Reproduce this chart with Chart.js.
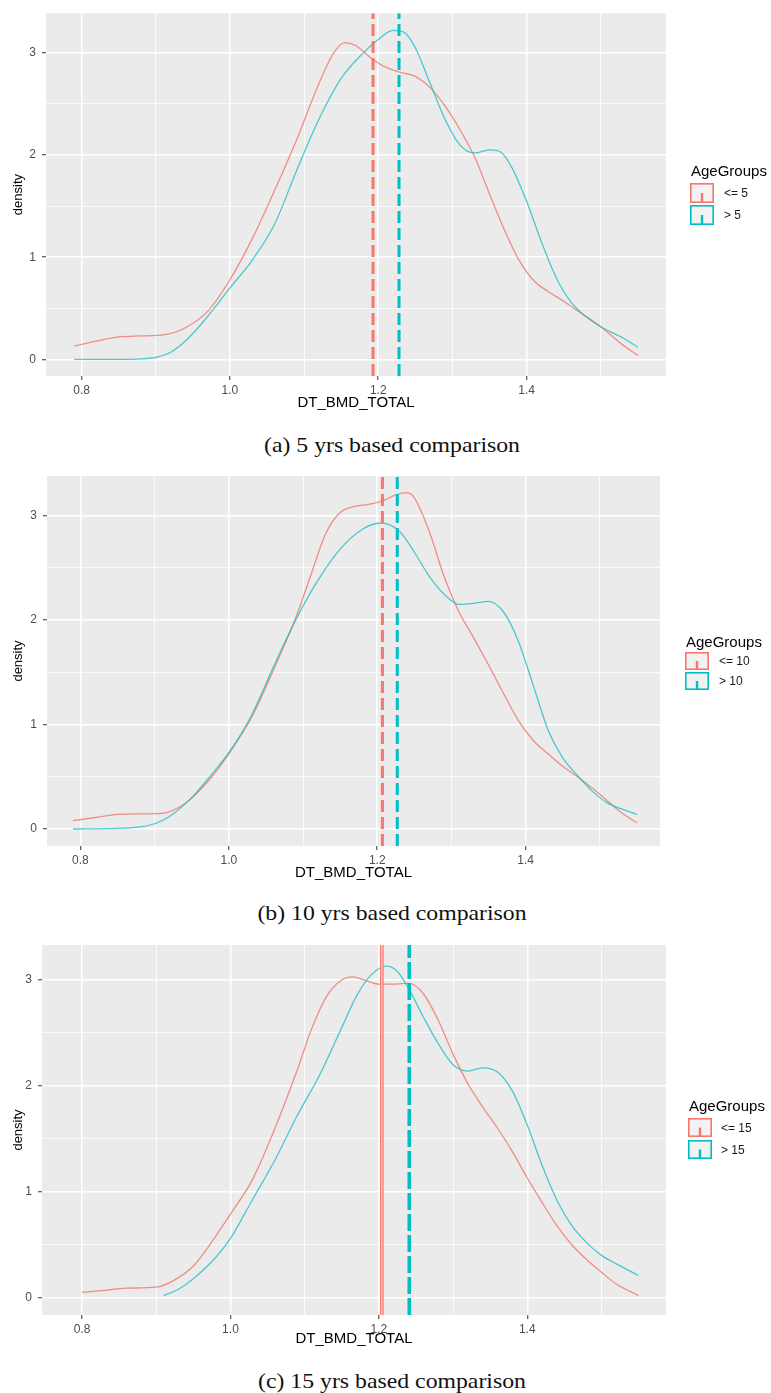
<!DOCTYPE html>
<html>
<head>
<meta charset="utf-8">
<script src="https://cdn.jsdelivr.net/npm/chart.js@4.4.1/dist/chart.umd.min.js"></script>
<style>
  html, body { margin: 0; padding: 0; background: #ffffff; }
  body { width: 771px; height: 1393px; position: relative; overflow: hidden; }
  canvas { position: absolute; left: 0; }
  .cap { position: absolute; left: 392px; transform: translateX(-50%) scaleX(1.08); white-space: nowrap;
         font-family: 'Liberation Serif', serif; font-size: 22px; line-height: 26px; color: #111; }
</style>
</head>
<body>
<canvas id="c1" width="771" height="425" style="top:0px"></canvas>
<canvas id="c2" width="771" height="430" style="top:460px"></canvas>
<canvas id="c3" width="771" height="420" style="top:930px"></canvas>
<div class="cap" id="cap1"></div>
<div class="cap" id="cap2"></div>
<div class="cap" id="cap3"></div>
<script>
// ---------------- data ----------------
const xMajor = [0.8, 1.0, 1.2, 1.4];
const xTickLabels = ['0.8', '1.0', '1.2', '1.4'];
const xMinor = [0.9, 1.1, 1.3, 1.5];
const yMajor = [0, 1, 2, 3];
const yTickLabels = ['0', '1', '2', '3'];
const yMinor = [0.5, 1.5, 2.5];
const xTitle = 'DT_BMD_TOTAL';
const yTitle = 'density';
const legendTitle = 'AgeGroups';
const captions = ['(a) 5 yrs based comparison', '(b) 10 yrs based comparison', '(c) 15 yrs based comparison'];

// (a) 5 years
const groups5 = ['<= 5', '> 5'];
const x5Low = [0.79,0.82,0.85,0.88,0.91,0.94,0.97,1.00,1.03,1.06,1.09,1.12,1.14,1.155,1.17,1.19,1.21,1.23,1.25,1.27,1.29,1.31,1.33,1.35,1.37,1.39,1.41,1.43,1.45,1.47,1.50,1.53,1.55];
const d5Low = [0.13,0.18,0.22,0.23,0.24,0.31,0.47,0.78,1.18,1.65,2.15,2.70,3.00,3.10,3.07,2.95,2.86,2.81,2.77,2.66,2.48,2.25,1.98,1.62,1.27,0.97,0.77,0.66,0.57,0.47,0.32,0.14,0.04];
const x5High = [0.79,0.85,0.88,0.90,0.92,0.94,0.97,1.00,1.03,1.06,1.09,1.12,1.15,1.18,1.20,1.22,1.235,1.25,1.27,1.29,1.31,1.33,1.35,1.365,1.38,1.40,1.42,1.44,1.46,1.48,1.50,1.53,1.55];
const d5High = [0.0,0.0,0.005,0.02,0.07,0.18,0.42,0.70,0.97,1.32,1.85,2.35,2.75,3.00,3.13,3.22,3.20,3.05,2.70,2.35,2.10,2.02,2.05,2.03,1.88,1.55,1.15,0.80,0.56,0.42,0.32,0.21,0.12];
const mean5 = [1.193, 1.228];

// (b) 10 years
const groups10 = ['<= 10', '> 10'];
const x10Low = [0.79,0.82,0.85,0.88,0.91,0.94,0.97,1.00,1.03,1.06,1.09,1.11,1.13,1.15,1.17,1.19,1.21,1.225,1.24,1.25,1.27,1.29,1.31,1.33,1.35,1.37,1.39,1.41,1.43,1.45,1.47,1.49,1.51,1.53,1.55];
const d10Low = [0.08,0.11,0.14,0.145,0.15,0.24,0.44,0.72,1.06,1.52,2.02,2.42,2.82,3.03,3.09,3.11,3.15,3.20,3.22,3.17,2.85,2.42,2.08,1.83,1.57,1.30,1.04,0.85,0.72,0.60,0.50,0.39,0.27,0.15,0.06];
const x10High = [0.79,0.85,0.88,0.90,0.92,0.95,0.98,1.00,1.03,1.06,1.09,1.12,1.15,1.18,1.205,1.23,1.25,1.27,1.29,1.31,1.33,1.35,1.37,1.39,1.41,1.43,1.45,1.47,1.49,1.51,1.53,1.55];
const d10High = [0.0,0.005,0.02,0.05,0.12,0.30,0.55,0.73,1.08,1.55,2.00,2.38,2.68,2.87,2.93,2.85,2.65,2.42,2.25,2.15,2.16,2.18,2.08,1.80,1.38,0.95,0.68,0.51,0.36,0.25,0.19,0.14];
const mean10 = [1.207, 1.227];

// (c) 15 years
const groups15 = ['<= 15', '> 15'];
const x15Low = [0.80,0.83,0.86,0.90,0.92,0.95,0.98,1.00,1.03,1.06,1.09,1.11,1.13,1.15,1.165,1.18,1.20,1.22,1.24,1.26,1.28,1.30,1.32,1.34,1.36,1.38,1.40,1.42,1.44,1.46,1.48,1.50,1.52,1.55];
const d15Low = [0.05,0.07,0.09,0.10,0.15,0.30,0.58,0.79,1.12,1.60,2.15,2.55,2.85,3.00,3.03,3.00,2.96,2.96,2.97,2.87,2.62,2.30,2.02,1.80,1.60,1.38,1.13,0.90,0.68,0.50,0.36,0.24,0.13,0.02];
const x15High = [0.91,0.93,0.95,0.98,1.00,1.03,1.06,1.09,1.12,1.15,1.17,1.19,1.21,1.225,1.24,1.26,1.28,1.30,1.32,1.34,1.36,1.38,1.40,1.42,1.44,1.46,1.48,1.50,1.52,1.55];
const d15High = [0.02,0.08,0.18,0.38,0.56,0.93,1.30,1.72,2.10,2.55,2.85,3.05,3.13,3.08,2.92,2.65,2.40,2.20,2.14,2.17,2.13,1.95,1.63,1.25,0.92,0.68,0.52,0.40,0.32,0.21];
const mean15 = [1.204, 1.241];

// ---------------- styling / layout ----------------
const RED = '#F8766D', CYAN = '#00BFC4';
const RED_CURVE = 'rgba(240,120,110,0.82)', CYAN_CURVE = 'rgba(30,190,195,0.78)';
const SANS = "'Liberation Sans', Arial, sans-serif";

const panels = [
  { id: 'c1', cap: 'cap1', capY: 445, h: 425, area: { l: 46, t: 10, r: 666, b: 376 }, xr: [0.752, 1.588], yr: [-0.162, 3.388], xTitleY: 403,
    legend: { x: 690, titleY: 172, boxY: [183, 205], boxW: 24, boxH: 20, labelX: 724 },
    groups: groups5, low: [x5Low, d5Low], high: [x5High, d5High], means: mean5, style: 'dashed' },
  { id: 'c2', cap: 'cap2', capY: 913, h: 430, area: { l: 47, t: 16, r: 660, b: 386 }, xr: [0.755, 1.581], yr: [-0.163, 3.38], xTitleY: 413,
    legend: { x: 685, titleY: 183, boxY: [192, 212], boxW: 24, boxH: 18, labelX: 719 },
    groups: groups10, low: [x10Low, d10Low], high: [x10High, d10High], means: mean10, style: 'dashed' },
  { id: 'c3', cap: 'cap3', capY: 1381, h: 420, area: { l: 42, t: 15, r: 666, b: 385 }, xr: [0.746, 1.587], yr: [-0.163, 3.33], xTitleY: 409,
    legend: { x: 688, titleY: 177, boxY: [188, 210], boxW: 24, boxH: 19, labelX: 721 },
    groups: groups15, low: [x15Low, d15Low], high: [x15High, d15High], means: mean15, style: 'mixed' }
];

const panelBg = {
  id: 'panelBg',
  beforeDraw(chart) {
    const { ctx, chartArea: a } = chart;
    ctx.save();
    ctx.fillStyle = '#EBEBEB';
    ctx.fillRect(a.left, a.top, a.right - a.left, a.bottom - a.top);
    ctx.restore();
  }
};

const ggLegend = {
  id: 'ggLegend',
  afterDraw(chart, args, opts) {
    const { ctx } = chart;
    const L = opts.layout;
    ctx.save();
    ctx.fillStyle = '#000';
    ctx.font = '15px ' + SANS;
    ctx.textBaseline = 'middle';
    ctx.textAlign = 'left';
    ctx.fillText(opts.title, L.x + 1, L.titleY);
    opts.labels.forEach((lab, i) => {
      const y = L.boxY[i];
      const col = opts.colors[i];
      ctx.fillStyle = '#F2F2F2';
      ctx.fillRect(L.x, y, L.boxW, L.boxH);
      ctx.strokeStyle = col;
      ctx.lineWidth = 1.6;
      ctx.strokeRect(L.x + 0.8, y + 0.8, L.boxW - 1.6, L.boxH - 1.6);
      ctx.beginPath();
      ctx.lineWidth = 2.4;
      ctx.moveTo(L.x + L.boxW / 2, y + L.boxH / 2);
      ctx.lineTo(L.x + L.boxW / 2, y + L.boxH - 0.5);
      ctx.stroke();
      ctx.fillStyle = '#1a1a1a';
      ctx.font = '12px ' + SANS;
      ctx.fillText(lab, L.labelX, y + L.boxH / 2 + 1);
    });
    ctx.restore();
  }
};

function near(v, arr) { return arr.some(a => Math.abs(a - v) < 1e-9); }

function buildChart(p) {
  const canvas = document.getElementById(p.id);
  const W = canvas.width;
  const pts = (xs, ys) => xs.map((x, i) => ({ x: x, y: ys[i] }));
  const vline = (m) => [{ x: m, y: p.yr[0] }, { x: m, y: p.yr[1] }];
  const datasets = [
    { data: pts(p.low[0], p.low[1]), borderColor: RED_CURVE, borderWidth: 1.3, cubicInterpolationMode: 'monotone', order: 3 },
    { data: pts(p.high[0], p.high[1]), borderColor: CYAN_CURVE, borderWidth: 1.3, cubicInterpolationMode: 'monotone', order: 2 }
  ];
  if (p.style === 'dashed') {
    datasets.push({ data: vline(p.means[0]), borderColor: RED, borderWidth: 3, borderDash: [12, 5], order: 1 });
    datasets.push({ data: vline(p.means[1]), borderColor: CYAN, borderWidth: 3, borderDash: [12, 5], order: 0 });
  } else {
    datasets.push({ data: vline(p.means[0]), borderColor: RED, borderWidth: 3.6, order: 1 });
    datasets.push({ data: vline(p.means[0]), borderColor: 'rgba(255,235,233,0.95)', borderWidth: 1, order: 0.5 });
    datasets.push({ data: vline(p.means[1]), borderColor: CYAN, borderWidth: 3.6, borderDash: [17, 4], order: 0 });
  }
  const lhX = 15 * 1.2;
  return new Chart(canvas, {
    type: 'line',
    data: { datasets: datasets },
    plugins: [panelBg, ggLegend],
    options: {
      responsive: false, animation: false, devicePixelRatio: 1,
      layout: { padding: { left: 0, top: p.area.t, right: W - p.area.r, bottom: 0 } },
      elements: { point: { radius: 0 }, line: { fill: false } },
      plugins: {
        legend: { display: false }, tooltip: { enabled: false },
        ggLegend: { title: legendTitle, labels: p.groups, colors: [RED, CYAN], layout: p.legend }
      },
      scales: {
        x: {
          type: 'linear', min: p.xr[0], max: p.xr[1],
          afterBuildTicks: (s) => { s.ticks = xMajor.concat(xMinor).sort((a, b) => a - b).map(v => ({ value: v })); },
          afterFit: (s) => { s.height = p.h - p.area.b; },
          border: { display: false },
          grid: {
            color: '#FFFFFF',
            lineWidth: (c) => (c.tick && near(c.tick.value, xMajor)) ? 1.5 : 0.8,
            drawTicks: true, tickLength: 4,
            tickColor: (c) => (c.tick && near(c.tick.value, xMajor)) ? '#333333' : 'rgba(0,0,0,0)',
            tickWidth: 1
          },
          ticks: {
            autoSkip: false, maxRotation: 0, padding: 3, color: '#4D4D4D',
            font: { family: SANS, size: 12 },
            callback: (v) => { const i = xMajor.findIndex(a => Math.abs(a - v) < 1e-9); return i >= 0 ? xTickLabels[i] : ''; }
          },
          title: { display: true, text: xTitle, color: '#000', font: { family: SANS, size: 15 },
                   padding: { top: 0, bottom: p.h - p.xTitleY - lhX / 2 } }
        },
        y: {
          type: 'linear', min: p.yr[0], max: p.yr[1],
          afterBuildTicks: (s) => { s.ticks = yMajor.concat(yMinor).sort((a, b) => a - b).map(v => ({ value: v })); },
          afterFit: (s) => { s.width = p.area.l; },
          border: { display: false },
          grid: {
            color: '#FFFFFF',
            lineWidth: (c) => (c.tick && near(c.tick.value, yMajor)) ? 1.5 : 0.8,
            drawTicks: true, tickLength: 4,
            tickColor: (c) => (c.tick && near(c.tick.value, yMajor)) ? '#333333' : 'rgba(0,0,0,0)',
            tickWidth: 1
          },
          ticks: {
            autoSkip: false, padding: 6, color: '#4D4D4D',
            font: { family: SANS, size: 12 },
            callback: (v) => { const i = yMajor.findIndex(a => Math.abs(a - v) < 1e-9); return i >= 0 ? yTickLabels[i] : ''; }
          },
          title: { display: true, text: yTitle, color: '#000', font: { family: SANS, size: 13 },
                   padding: { top: 11, bottom: 0 } }
        }
      }
    }
  });
}

panels.forEach((p, i) => {
  buildChart(p);
  const cap = document.getElementById(p.cap);
  cap.textContent = captions[i];
  cap.style.top = (p.capY - 13) + 'px';
});
</script>
</body>
</html>
